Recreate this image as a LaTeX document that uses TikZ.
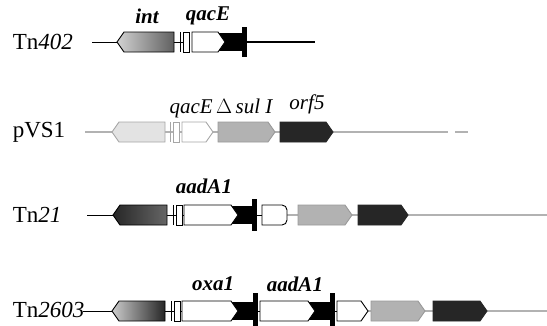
\documentclass[tikz,border=0pt]{standalone}
\usepackage{fontspec}
\setmainfont{Liberation Serif}
% right-pointing gene arrow: x1, x2, y, options
\newcommand{\gR}[4]{\draw[#4] (#1,#3-10) -- (#2-7,#3-10) -- (#2,#3) -- (#2-7,#3+10) -- (#1,#3+10) -- cycle;}
% left-pointing gene arrow
\newcommand{\gL}[4]{\draw[#4] (#1,#3) -- (#1+7,#3-10) -- (#2,#3-10) -- (#2,#3+10) -- (#1+7,#3+10) -- cycle;}
% attI site: tick + small box
\newcommand{\attsite}[3]{\draw[#3] (#1,#2-10) -- (#1,#2+10); \draw[#3,fill=white] (#1+3,#2-10) rectangle (#1+9,#2+10);}
% black block and bar
\newcommand{\blk}[4]{\fill[black] (#1,#3-9) rectangle (#2,#3+9); \fill[black] (#2,#3-#4) rectangle (#2+5,#3+#4);}
\begin{document}
\begin{tikzpicture}[x=1pt,y=-1pt,line width=0.9pt,
  rowlbl/.style={font=\fontsize{23}{25}\selectfont, anchor=west},
  genelbl/.style={font=\fontsize{21}{24}\selectfont\bfseries\itshape},
  genelblr/.style={font=\fontsize{21}{24}\selectfont\itshape},
  wht/.style={draw=black, fill=white},
  gline/.style={draw=gray!60, line width=1.2pt}]
\useasboundingbox (0,0) rectangle (547,325);

% ---------- Tn402 ----------
\node[rowlbl] (l1) at (9,42) {Tn\textit{402}};
\draw (92,42) -- (190,42);
\gL{117}{174}{42}{draw=black, left color=gray!35, right color=gray!75!black}
\attsite{180}{42}{black}
\blk{218}{242}{42}{15}
\gR{192}{225}{42}{wht}
\draw[line width=2.2pt] (245,42) -- (315,42);
\node[genelbl] (g1) at (147,16) {int};
\node[genelbl] (g2) at (208,16) {qacE};

% ---------- pVS1 ----------
\node[rowlbl] (l2) at (9,132) {pVS1};
\draw[gline] (85,132) -- (448,132);
\draw[gline] (455,132) -- (468,132);
\gL{112}{165}{132}{draw=gray!70, fill=gray!22}
\attsite{170}{132}{gray!70}
\gR{182}{213}{132}{draw=gray!70, fill=white}
\gR{218}{275}{132}{draw=gray!80, fill=gray!60}
\gR{280}{333}{132}{draw=black!85, fill=black!85}
\node[genelblr] (g3) at (221,108) {qacE\,$\Delta$\,sul I};
\node[genelblr] (g4) at (307,104) {orf5};

% ---------- Tn21 ----------
\node[rowlbl] (l3) at (9,215) {Tn\textit{21}};
\draw (87,215) -- (262,215);
\draw[gline] (287,215) -- (547,215);
\gL{113}{167}{215}{draw=black, left color=black!85, right color=gray!80!black}
\attsite{173}{215}{black}
\blk{231}{252}{215}{16}
\gR{184}{238}{215}{wht}
\draw[wht] (262,205) -- (282,205) to[out=0,in=90] (287,210) -- (287,220) to[out=-90,in=0] (282,225) -- (262,225) -- cycle;
\gR{298}{352}{215}{draw=gray!80, fill=gray!60}
\gR{358}{408}{215}{draw=black!85, fill=black!85}
\node[genelbl] (g5) at (204,186) {aadA1};

% ---------- Tn2603 ----------
\node[rowlbl] (l4) at (9,310) {Tn\textit{2603}};
\draw (83,311) -- (337,311);
\draw[gline] (368,311) -- (547,311);
\gL{112}{165}{311}{draw=black, left color=gray!40, right color=black!85}
\attsite{171}{311}{black}
\blk{231}{253}{311}{18}
\gR{182}{238}{311}{wht}
\blk{308}{330}{311}{18}
\gR{260}{315}{311}{wht}
\gR{337}{368}{311}{wht}
\gR{371}{425}{311}{draw=gray!80, fill=gray!60}
\gR{433}{487}{311}{draw=black!85, fill=black!85}
\node[genelbl] (g6) at (213,284) {oxa1};
\node[genelbl] (g7) at (295,284) {aadA1};
\end{tikzpicture}
\end{document}
